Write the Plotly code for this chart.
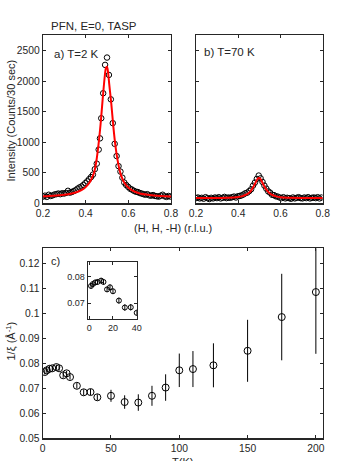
import plotly.graph_objects as go

# ---------------- data ----------------
# Panel a) T = 2 K
h_a = [0.200,0.209,0.218,0.227,0.236,0.245,0.254,0.263,0.272,0.281,0.290,0.299,0.308,0.317,0.326,0.335,
       0.344,0.353,0.362,0.371,0.380,0.389,0.398,0.407,0.416,0.425,0.434,0.443,0.452,0.461,0.467,0.473,
       0.482,0.491,0.500,0.509,0.518,0.527,0.536,0.545,0.554,0.563,0.572,0.581,0.590,0.599,0.608,0.617,
       0.626,0.635,0.644,0.653,0.662,0.671,0.680,0.689,0.698,0.707,0.716,0.725,0.734,0.743,0.752,0.761,
       0.770,0.779,0.788,0.797]
i_a = [110,125,105,140,120,130,145,150,160,150,165,160,170,205,175,185,
       200,215,240,260,275,300,330,360,395,430,470,560,650,880,1065,1395,
       1805,2270,2390,2105,1705,1315,975,775,610,520,420,340,300,270,240,225,
       205,190,185,170,160,150,140,150,130,125,135,120,115,110,125,140,
       115,105,120,110]
fit_h_a = [0.20,0.25,0.30,0.33,0.36,0.38,0.40,0.42,0.43,0.44,0.45,0.46,0.47,0.48,0.49,0.495,0.50,
           0.505,0.51,0.52,0.53,0.54,0.55,0.56,0.57,0.58,0.60,0.62,0.65,0.70,0.75,0.80]
fit_i_a = [115,125,140,155,185,215,265,350,420,510,690,960,1300,1720,2100,2220,2240,
           2150,1970,1640,1250,930,700,530,420,345,258,207,165,135,120,112]

# Panel b) T = 70 K
h_b = [0.200,0.209,0.218,0.227,0.236,0.245,0.254,0.263,0.272,0.281,0.290,0.299,0.308,0.317,0.326,0.335,
       0.344,0.353,0.362,0.371,0.380,0.389,0.398,0.407,0.416,0.425,0.434,0.443,0.452,0.461,0.470,0.479,
       0.488,0.497,0.506,0.515,0.524,0.533,0.542,0.551,0.560,0.569,0.578,0.587,0.596,0.605,0.614,0.623,
       0.632,0.641,0.650,0.659,0.668,0.677,0.686,0.695,0.704,0.713,0.722,0.731,0.740,0.749,0.758,0.767,
       0.776,0.785,0.794]
i_b = [85,95,80,90,75,100,85,70,90,80,95,85,100,80,90,105,
       85,95,90,100,110,95,115,120,130,145,165,175,200,230,290,340,
       400,455,410,350,290,240,195,175,140,135,115,110,95,85,100,80,
       90,85,75,95,80,90,100,85,80,95,85,100,80,90,95,85,
       100,80,95]
fit_h_b = [0.20,0.30,0.35,0.40,0.42,0.44,0.45,0.46,0.47,0.48,0.49,0.495,0.50,0.505,0.51,0.52,0.53,
           0.54,0.55,0.56,0.58,0.60,0.65,0.70,0.80]
fit_i_b = [85,88,92,105,118,145,168,205,260,325,390,412,415,400,370,300,240,
           195,162,140,113,100,90,87,85]

# Panel c) 1/xi vs T
temp = [1.5,3,5,7,10,12,15,17.5,20,25,30,35,40,50,60,70,80,90,100,110,125,150,175,200]
inv_xi = [0.0765,0.0772,0.0778,0.0780,0.0785,0.0780,0.0752,0.0760,0.0745,0.0710,0.0684,0.0685,0.0664,
          0.0670,0.0645,0.0643,0.0670,0.0703,0.0772,0.0777,0.0792,0.0850,0.0985,0.1085]
inv_xi_err = [0.0010,0.0010,0.0010,0.0010,0.0010,0.0010,0.0010,0.0010,0.0010,0.0011,0.0012,0.0012,0.0012,
              0.0024,0.0027,0.0033,0.0040,0.0053,0.0067,0.0072,0.0088,0.0124,0.0173,0.0247]

# ---------------- figure ----------------
W, H = 354, 461
def px(x): return x / W
def py(y): return 1 - y / H

FC = '#262626'
FONT = 'Liberation Sans, Arial, sans-serif'

fig = go.Figure()
marker_open = dict(symbol='circle-open', color='black', line=dict(width=1, color='black'))

fig.add_trace(go.Scatter(x=h_a, y=i_a, mode='markers', marker=dict(size=5.5, **marker_open),
                         xaxis='x', yaxis='y', showlegend=False))
fig.add_trace(go.Scatter(x=fit_h_a, y=fit_i_a, mode='lines', line=dict(color='#ff0000', width=2, shape='spline', smoothing=0.8),
                         xaxis='x', yaxis='y', showlegend=False))
fig.add_trace(go.Scatter(x=h_b, y=i_b, mode='markers', marker=dict(size=5.5, **marker_open),
                         xaxis='x2', yaxis='y2', showlegend=False))
fig.add_trace(go.Scatter(x=fit_h_b, y=fit_i_b, mode='lines', line=dict(color='#ff0000', width=2, shape='spline', smoothing=0.8),
                         xaxis='x2', yaxis='y2', showlegend=False))
fig.add_trace(go.Scatter(x=temp, y=inv_xi, mode='markers', marker=dict(size=7, **marker_open),
                         error_y=dict(type='data', array=inv_xi_err, visible=True, thickness=1, width=0, color='black'),
                         xaxis='x3', yaxis='y3', showlegend=False))
inset_T = [t for t in temp if t <= 40]
n_in = len(inset_T)
fig.add_trace(go.Scatter(x=inset_T, y=inv_xi[:n_in], mode='markers', marker=dict(size=5, **marker_open),
                         error_y=dict(type='data', array=inv_xi_err[:n_in], visible=True, thickness=1, width=0, color='black'),
                         xaxis='x4', yaxis='y4', showlegend=False))

def ax(domain, rng, anchor, **kw):
    d = dict(domain=domain, range=rng, anchor=anchor, showline=True, mirror='ticks', linecolor=FC, linewidth=1.2,
             ticks='inside', ticklen=3, tickcolor=FC, tickwidth=1, showgrid=False, zeroline=False,
             automargin=False, fixedrange=True, tickfont=dict(family=FONT, size=10.3, color=FC))
    d.update(kw)
    return d

ya_dom = [py(203.3), py(35)]
fig.update_layout(
    width=W, height=H, margin=dict(l=0, r=0, t=0, b=0, pad=0, autoexpand=False),
    paper_bgcolor='white', plot_bgcolor='white', hovermode=False,
    xaxis=ax([px(43), px(171)], [0.2, 0.8], 'y', tickvals=[0.2, 0.4, 0.6, 0.8], ticktext=['0.2', '0.4', '0.6', '0.8']),
    yaxis=ax(ya_dom, [0, 2760], 'x', tickvals=[0, 500, 1000, 1500, 2000, 2500]),
    xaxis2=ax([px(196), px(322.7)], [0.2, 0.8], 'y2', tickvals=[0.2, 0.4, 0.6, 0.8], ticktext=['0.2', '0.4', '0.6', '0.8']),
    yaxis2=ax(ya_dom, [0, 2760], 'x2', tickvals=[0, 500, 1000, 1500, 2000, 2500], showticklabels=False),
    xaxis3=ax([px(42.7), px(322.7)], [0, 205], 'y3', tickvals=[0, 50, 100, 150, 200]),
    yaxis3=ax([py(438.3), py(248.3)], [0.05, 0.126], 'x3',
              tickvals=[0.05, 0.06, 0.07, 0.08, 0.09, 0.10, 0.11, 0.12],
              ticktext=['0.05', '0.06', '0.07', '0.08', '0.09', '0.1', '0.11', '0.12']),
    xaxis4=ax([px(87.7), px(136.7)], [-1.3, 40], 'y4', tickvals=[0, 20, 40],
              tickfont=dict(family=FONT, size=9, color=FC)),
    yaxis4=ax([py(318.7), py(261.7)], [0.0642, 0.0856], 'x4', tickvals=[0.07, 0.08], ticktext=['0.07', '0.08'],
              tickfont=dict(family=FONT, size=9, color=FC)),
)

def ann(text, x, y, xanchor='center', size=11.5, angle=0):
    fig.add_annotation(text=text, x=px(x), y=py(y), xref='paper', yref='paper', xanchor=xanchor, yanchor='middle',
                       showarrow=False, textangle=angle, font=dict(family=FONT, size=size, color=FC))

ann('PFN, E=0, TASP', 93.5, 26)
ann('a) T=2 K', 52, 54, xanchor='left')
ann('b) T=70 K', 202, 52, xanchor='left')
ann('(H, H, -H) (r.l.u.)', 173, 228, size=11)
ann('c)', 49, 261, xanchor='left', size=11)
ann('T(K)', 182.7, 462, size=11)
ann('Intensity (Counts/30 sec)', 10.5, 121, size=11, angle=-90)
ann('1/\u03be (\u00c5<sup>-1</sup>)', 10.5, 341, size=11, angle=-90)

# remove the browser's default 8px page margin so the figure sits at the window's corner
fig.write_html('out.html', config={'displayModeBar': False, 'staticPlot': True},
               post_script="document.body.style.margin='0';document.body.style.overflow='hidden';")
